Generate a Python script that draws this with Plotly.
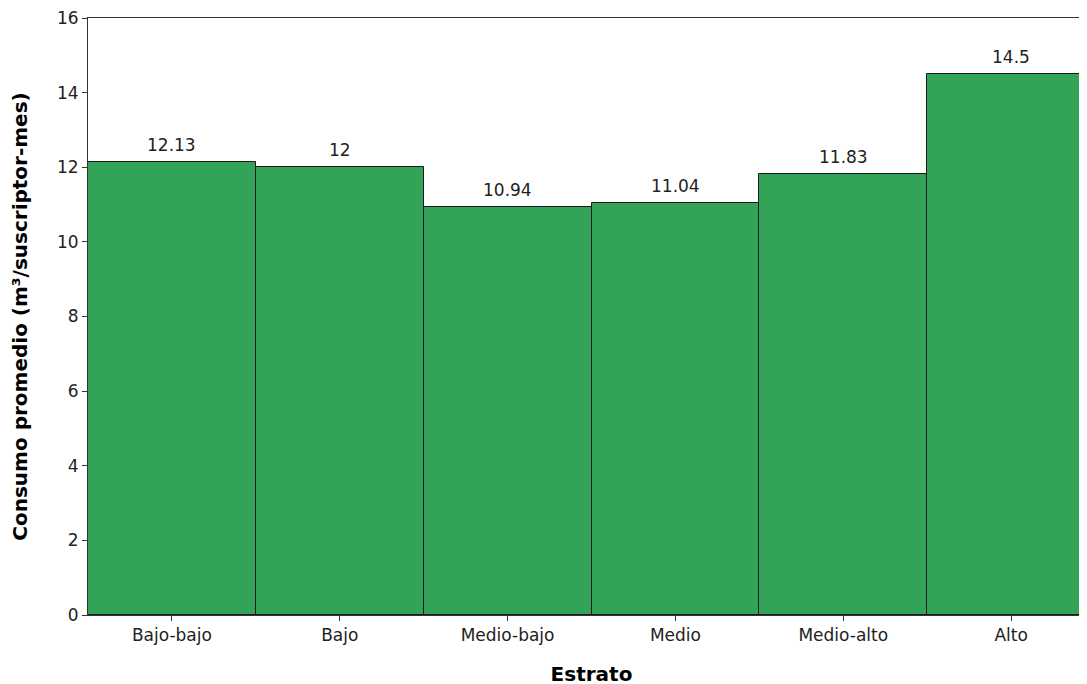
import plotly.graph_objects as go

categories = ["Bajo-bajo", "Bajo", "Medio-bajo", "Medio", "Medio-alto", "Alto"]
values = [12.13, 12.0, 10.94, 11.04, 11.83, 14.5]
y_ticks = [0, 2, 4, 6, 8, 10, 12, 14, 16]

FONT = "DejaVu Sans"
TXT = "#222222"

fig = go.Figure()
fig.add_trace(go.Bar(
    x=list(range(len(categories))),
    y=values,
    width=1.0,
    marker=dict(color="#33a457", line=dict(color="#1a1a1a", width=1)),
    hoverinfo="skip",
))

for i, v in enumerate(values):
    fig.add_annotation(
        x=i, y=v, text=f"{v:g}", showarrow=False,
        yanchor="bottom", yshift=5,
        font=dict(family=FONT, size=17, color=TXT),
    )

fig.update_layout(
    width=1087, height=684,
    margin=dict(l=80, r=0, t=8, b=77),
    plot_bgcolor="white", paper_bgcolor="white",
    showlegend=False,
    bargap=0,
    font=dict(family=FONT, color=TXT),
)
fig.update_xaxes(
    range=[-0.5, 5.5],
    tickmode="array",
    tickvals=list(range(len(categories))),
    ticktext=categories,
    ticks="outside", ticklen=5, tickwidth=1, tickcolor="#333333",
    tickfont=dict(family=FONT, size=17, color=TXT),
    showline=True, linecolor="#333333", linewidth=1, mirror=True,
    showgrid=False, zeroline=False,
    title=dict(text="<b>Estrato</b>", font=dict(family=FONT, size=20, color="#000000"), standoff=22),
)
fig.update_yaxes(
    range=[0, 16],
    tickmode="array", tickvals=y_ticks,
    ticks="outside", ticklen=5, tickwidth=1, tickcolor="#333333",
    tickfont=dict(family=FONT, size=17, color=TXT),
    ticklabeloverflow="allow",
    showline=True, linecolor="#333333", linewidth=1,
    showgrid=False, zeroline=False,
    title=dict(text="<b>Consumo promedio (m³/suscriptor-mes)</b>",
               font=dict(family=FONT, size=20, color="#000000"), standoff=24),
)

fig.write_html("out.html")
